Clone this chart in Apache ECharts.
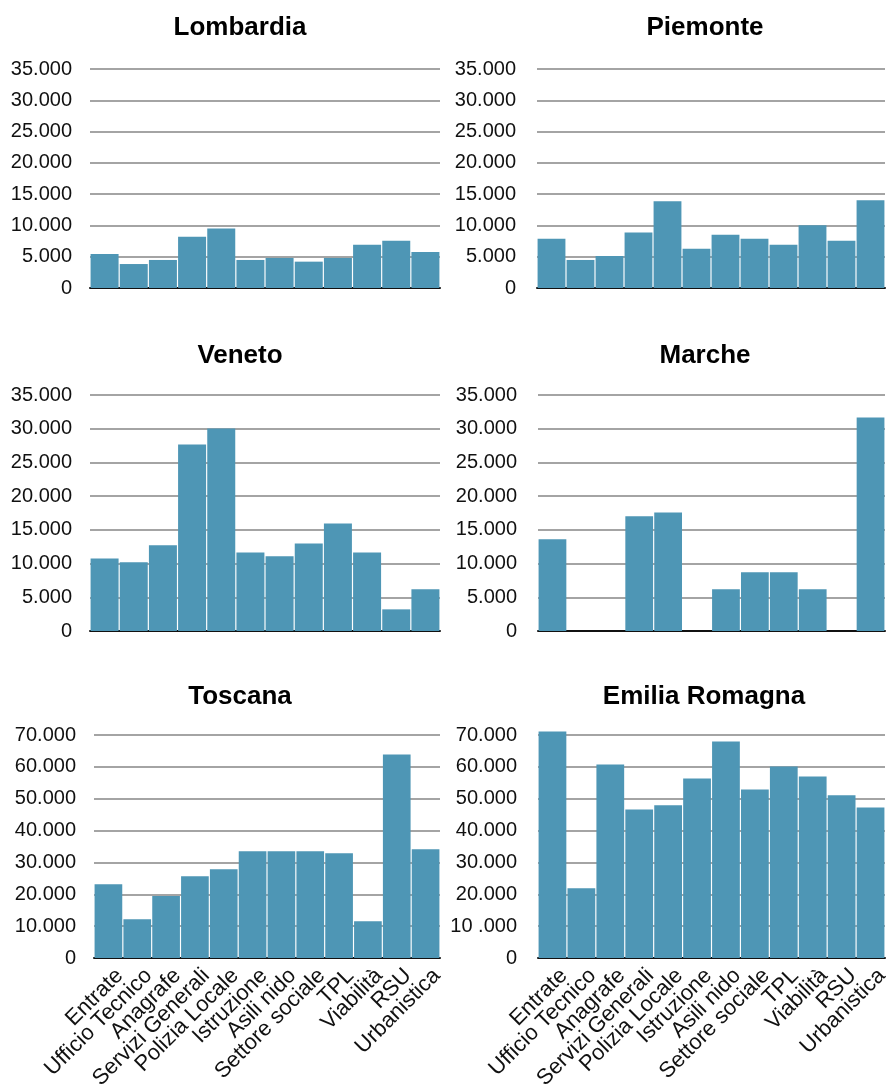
<!DOCTYPE html>
<html>
<head>
<meta charset="utf-8">
<script src="https://cdn.jsdelivr.net/npm/echarts@6/dist/echarts.min.js"></script>
<style>
  html, body { margin: 0; padding: 0; background: #ffffff; }
  #chart { width: 887px; height: 1090px; }
</style>
</head>
<body>
<div id="chart"></div>
<script>
// ---- Data ----
var categories = ['Entrate', 'Ufficio Tecnico', 'Anagrafe', 'Servizi Generali', 'Polizia Locale',
  'Istruzione', 'Asili nido', 'Settore sociale', 'TPL', 'Viabilità', 'RSU', 'Urbanistica'];

var regions = ['Lombardia', 'Piemonte', 'Veneto', 'Marche', 'Toscana', 'Emilia Romagna'];

var lombardia = [5450, 3830, 4480, 8200, 9490, 4480, 4800, 4210, 4800, 6900, 7550, 5770];
var piemonte  = [7870, 4480, 5120, 8850, 13860, 6260, 8520, 7870, 6900, 10030, 7550, 14020];
var veneto    = [10770, 10180, 12700, 27670, 30040, 11660, 11070, 12990, 15960, 11660, 3210, 6180];
var marche    = [13590, 0, 0, 17000, 17590, 0, 6180, 8700, 8700, 6180, 0, 31670];
var toscana   = [23120, 12130, 19460, 25630, 27820, 33470, 33470, 33470, 32850, 11510, 63910, 34100];
var emilia    = [71130, 21860, 60770, 46650, 47910, 56380, 67990, 52930, 60150, 57010, 51050, 47280];

var yMaxTop = 35000, yStepTop = 5000;
var yMaxBottom = 70000, yStepBottom = 10000;

// ---- Layout ----
var seriesData = [lombardia, piemonte, veneto, marche, toscana, emilia];
var grids = [
  { left: 90,  top: 69,  width: 350, height: 219 },
  { left: 537, top: 69,  width: 348, height: 219 },
  { left: 90,  top: 395, width: 350, height: 236 },
  { left: 538, top: 395, width: 347, height: 236 },
  { left: 94,  top: 735, width: 346, height: 223 },
  { left: 538, top: 735, width: 347, height: 223 }
];
var titlePos = [
  { x: 235, y: 10 }, { x: 700, y: 10 },
  { x: 235, y: 338 }, { x: 700, y: 338 },
  { x: 235, y: 679 }, { x: 699, y: 679 }
];

var FONT = "'Liberation Sans', Arial, Helvetica, sans-serif";
var BAR = '#4e96b5';

function fmt(v) {
  var s = String(Math.round(v));
  if (s.length > 3) s = s.slice(0, s.length - 3) + '.' + s.slice(s.length - 3);
  return s;
}

var option = {
  backgroundColor: '#ffffff',
  animation: false,
  title: [], grid: [], xAxis: [], yAxis: [], series: []
};

for (var i = 0; i < 6; i++) {
  var bottomRow = i >= 4;
  var isRight = i % 2 === 1;
  option.title.push({
    text: regions[i],
    left: titlePos[i].x,
    top: titlePos[i].y,
    textAlign: 'center',
    textStyle: { fontFamily: FONT, fontSize: 26, fontWeight: 'bold', color: '#000' }
  });
  option.grid.push(Object.assign({ containLabel: false, outerBoundsMode: 'none' }, grids[i]));
  option.xAxis.push({
    type: 'category',
    gridIndex: i,
    data: categories,
    axisTick: { show: false },
    axisLine: { show: true, lineStyle: { color: '#111', width: 2 } },
    axisLabel: bottomRow ? {
      show: true, interval: 0, rotate: 45, margin: 3,
      verticalAlign: 'top', padding: [5, 0, 0, 0],
      fontFamily: FONT, fontSize: 22, color: '#111'
    } : { show: false },
    splitLine: { show: false }
  });
  (function (idx) {
    option.yAxis.push({
      type: 'value',
      gridIndex: idx,
      min: 0,
      max: idx >= 4 ? yMaxBottom : yMaxTop,
      interval: idx >= 4 ? yStepBottom : yStepTop,
      axisLine: { show: false },
      axisTick: { show: false },
      axisLabel: {
        fontFamily: FONT, fontSize: 20, color: '#111',
        margin: isRight ? 21 : 18,
        formatter: function (v) {
          if (idx === 5 && v === 10000) return '10 .000';
          return fmt(v);
        }
      },
      splitLine: { show: true, lineStyle: { color: '#a4a4a4', width: 2 } }
    });
  })(i);
  option.series.push({
    type: 'bar',
    xAxisIndex: i,
    yAxisIndex: i,
    data: seriesData[i],
    barCategoryGap: '4%',
    clip: false,
    itemStyle: { color: BAR },
    emphasis: { disabled: true }
  });
}

var chart = echarts.init(document.getElementById('chart'), null, { renderer: 'canvas' });
chart.setOption(option);
</script>
</body>
</html>
